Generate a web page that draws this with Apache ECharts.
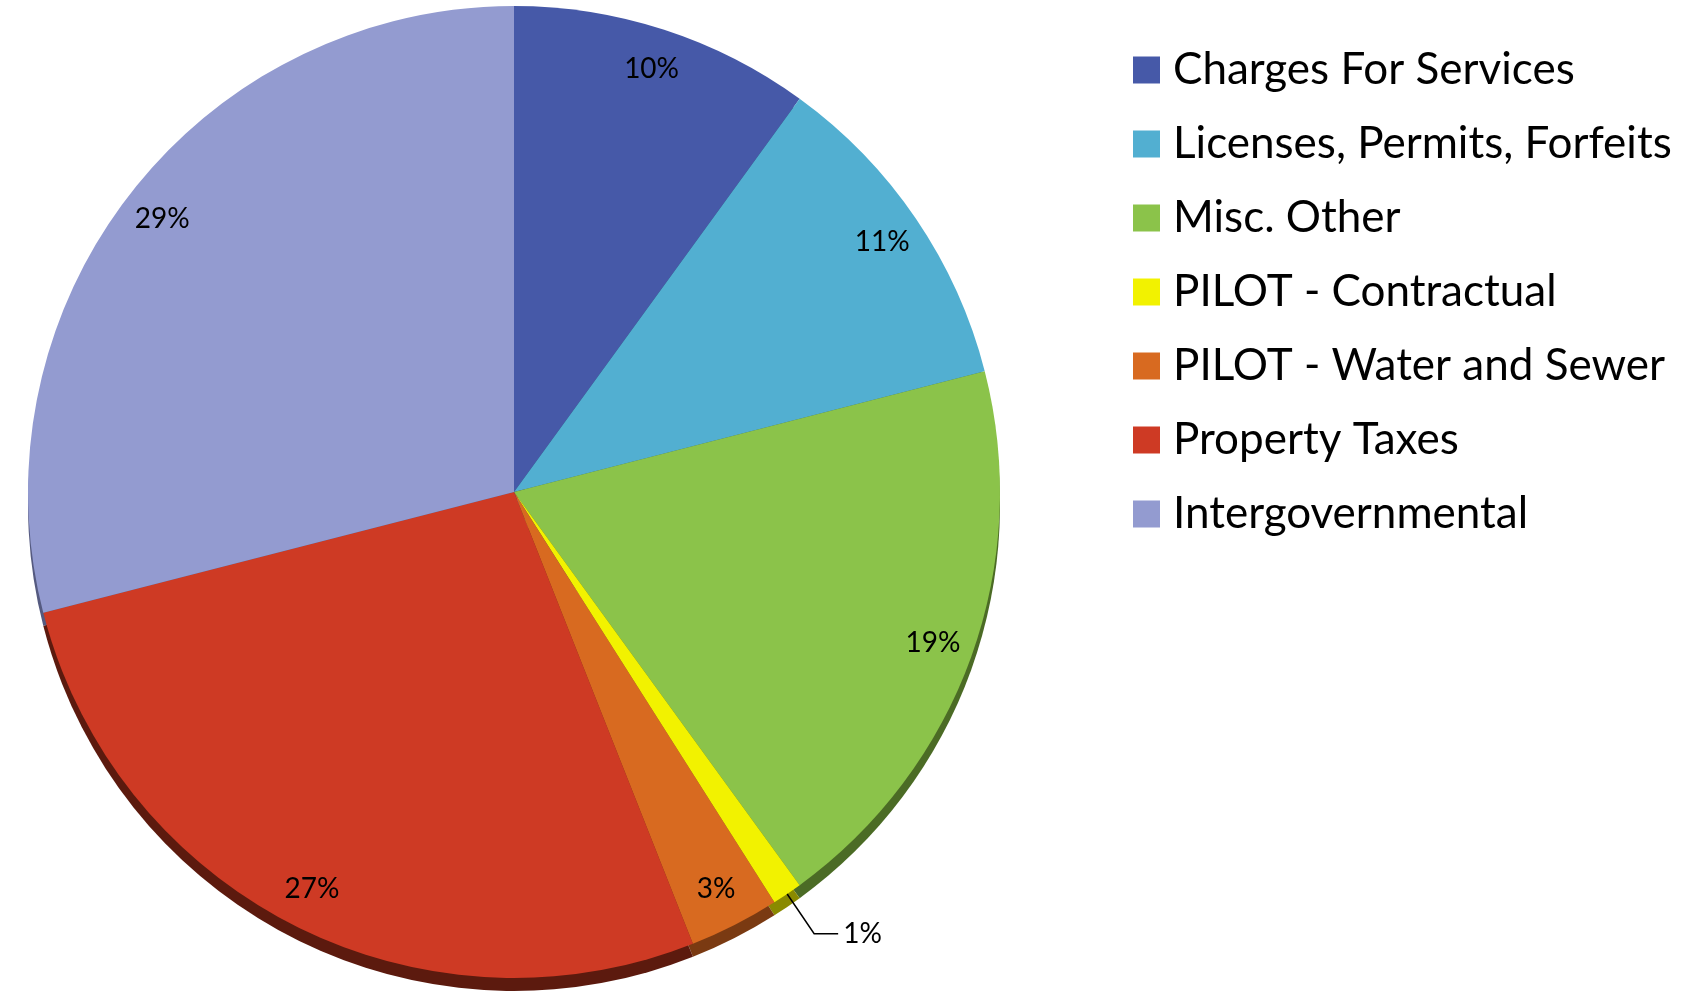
<!DOCTYPE html>
<html>
<head>
<meta charset="utf-8">
<script src="https://cdn.jsdelivr.net/npm/echarts@6/dist/echarts.min.js"></script>
<style>html,body{margin:0;padding:0;background:#fff}#main{width:1692px;height:993px}</style>
</head>
<body>
<div id="main"></div>
<script>
const categories = ['Charges For Services','Licenses, Permits, Forfeits','Misc. Other','PILOT - Contractual','PILOT - Water and Sewer','Property Taxes','Intergovernmental'];
const values = [10, 11, 19, 1, 3, 27, 29];
const colors = ['#4659A8','#52AFD1','#8BC34A','#F2F200','#D86A20','#CE3A24','#939BD0'];
const sideColors = ['#2A3566','#2E6A80','#4B6B25','#8A8A00','#7A3A12','#5C1A0E','#555A80'];

const CX = 514, CY = 492, R = 486, DEPTH = 13;
const chart = echarts.init(document.getElementById('main'), null, {renderer:'canvas'});
const font = 'Lato';
const option = {
  animation: false,
  backgroundColor: '#fff',
  legend: {
    orient: 'vertical', left: 1133, top: 48, padding: 0,
    itemWidth: 27, itemHeight: 27, itemGap: 30,
    icon: 'rect', selectedMode: false,
    textStyle: {fontFamily: font, fontSize: 44, lineHeight: 44, color: '#000', padding: [0,0,0,8]},
    data: categories
  },
  series: [
    {
      type: 'pie', name: 'main', z: 2, startAngle: 90, clockwise: true,
      center: [CX, CY], radius: R, silent: true,
      label: {show: false}, labelLine: {show: false},
      data: categories.map((c, i) => ({name: c, value: values[i], itemStyle: {color: colors[i]}}))
    },
    {
      type: 'pie', name: 'side', z: 1, startAngle: 90, clockwise: true,
      center: [CX, CY + DEPTH], radius: R, silent: true,
      label: {show: false}, labelLine: {show: false},
      data: categories.map((c, i) => ({name: c, value: values[i], itemStyle: {color: sideColors[i]}}))
    },
    {
      type: 'pie', name: 'labels', z: 3, startAngle: 90, clockwise: true,
      center: [CX, CY], radius: [R * 0.82, R], silent: true,
      itemStyle: {color: 'rgba(0,0,0,0)'},
      label: {show: true, position: 'inside', fontFamily: font, fontSize: 28, color: '#000',
        formatter: p => p.value + '%'},
      labelLine: {show: false},
      data: categories.map((c, i) => {
        const d = {name: c, value: values[i], itemStyle: {color: 'rgba(0,0,0,0)'}};
        if (values[i] < 2) {
          d.label = {position: 'outside', fontFamily: font, fontSize: 28, color: '#000'};
          d.labelLine = {show: true, length: 48, length2: 24, lineStyle: {color: '#000', width: 1.5}};
        }
        return d;
      })
    }
  ]
};
chart.setOption(option);
</script>
</body>
</html>
